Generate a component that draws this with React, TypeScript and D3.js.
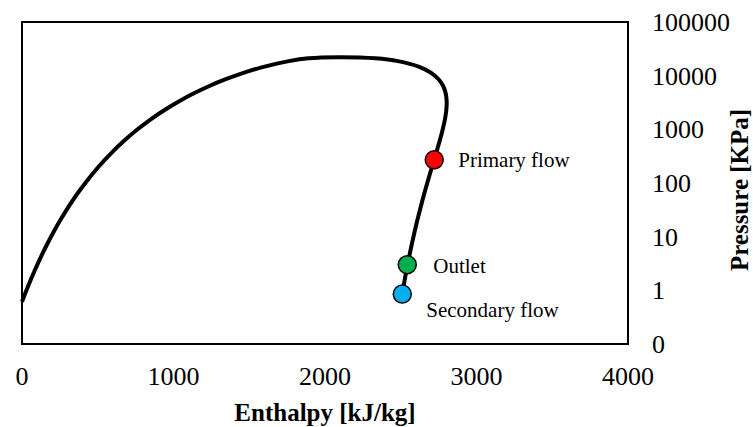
import React from "react";
import * as d3 from "d3";

// Saturation dome of water (enthalpy kJ/kg, pressure kPa), in path order
const curveH = [0.0, 21.0, 42.0, 83.9, 125.7, 167.5, 209.3, 251.2, 293.1, 335.0, 377.0, 419.2, 503.8, 589.2, 675.5, 763.1, 852.3, 943.6, 1037.6, 1135.0, 1236.7, 1344.8, 1461.8, 1594.5, 1761.5, 1890.7, 2084.3, 2334.5, 2481.0, 2622.0, 2700.6, 2749.6, 2779.9, 2796.6, 2803.0, 2800.9, 2792.0, 2777.2, 2757.7, 2733.5, 2706.0, 2675.6, 2659.5, 2643.0, 2626.1, 2608.8, 2591.3, 2573.5, 2555.6, 2537.4, 2519.2, 2510.1, 2500.9];
const curveP = [0.6117, 0.8725, 1.228, 2.339, 4.247, 7.385, 12.35, 19.95, 31.2, 47.41, 70.18, 101.42, 198.67, 361.53, 618.23, 1002.8, 1554.9, 2319.6, 3346.9, 4692.3, 6416.6, 8587.9, 11284, 14601, 18666, 21044, 22064, 21044, 18666, 14601, 11284, 8587.9, 6416.6, 4692.3, 3346.9, 2319.6, 1554.9, 1002.8, 618.23, 361.53, 198.67, 101.42, 70.18, 47.41, 31.2, 19.95, 12.35, 7.385, 4.247, 2.339, 1.228, 0.8725, 0.6117];

const pointLabels = ["Primary flow", "Outlet", "Secondary flow"];
const pointH = [2721, 2543, 2510];
const pointP = [270, 3.0, 0.85];
const pointColors = ["#FF0000", "#00B050", "#00B0F0"];

const xTicks = [0, 1000, 2000, 3000, 4000];
const yTicks = [0.1, 1, 10, 100, 1000, 10000, 100000];

const W = 753;
const H = 427;
const L = 22, R = 628, T = 22, B = 344;

export default function App() {
  const x = d3.scaleLinear().domain([0, 4000]).range([L, R]);
  const y = d3.scaleLog().domain([0.1, 100000]).range([B, T]);
  const fmt = d3.format(".0f");
  const pts: [number, number][] = curveH.map((h, i) => [h, curveP[i]]);
  const line = d3
    .line<[number, number]>()
    .x((d) => x(d[0]))
    .y((d) => y(d[1]))
    .curve(d3.curveCatmullRom.alpha(0.5));

  const labelOffsets = [
    { dx: 24, dy: 7 },
    { dx: 26, dy: 8 },
    { dx: 24, dy: 23 },
  ];

  return (
    <svg
      width={W}
      height={H}
      style={{ position: "absolute", left: 0, top: 0, background: "#fff" }}
      fontFamily="'Liberation Serif', 'Times New Roman', serif"
    >
      <rect x={0} y={0} width={W} height={H} fill="#fff" />
      <rect x={L} y={T} width={R - L} height={B - T} fill="none" stroke="#000" strokeWidth={2} />
      <path d={line(pts) || ""} fill="none" stroke="#000" strokeWidth={4} strokeLinejoin="round" />
      {pointH.map((h, i) => (
        <circle key={i} cx={x(h)} cy={y(pointP[i])} r={9} fill={pointColors[i]} stroke="#000" strokeWidth={1.5} />
      ))}
      {pointLabels.map((t, i) => (
        <text key={t} x={x(pointH[i]) + labelOffsets[i].dx} y={y(pointP[i]) + labelOffsets[i].dy} fontSize={21} fill="#000">
          {t}
        </text>
      ))}
      {xTicks.map((v) => (
        <text key={v} x={x(v)} y={385} textAnchor="middle" fontSize={26} fill="#000">
          {v}
        </text>
      ))}
      {yTicks.map((v) => (
        <text key={v} x={652} y={y(v) + 9} textAnchor="start" fontSize={26} fill="#000">
          {fmt(v)}
        </text>
      ))}
      <text x={(L + R) / 2} y={421} textAnchor="middle" fontSize={25} fontWeight="bold" fill="#000">
        Enthalpy [kJ/kg]
      </text>
      <text transform={`translate(748, 190) rotate(-90)`} textAnchor="middle" fontSize={25} fontWeight="bold" fill="#000">
        Pressure [KPa]
      </text>
    </svg>
  );
}
